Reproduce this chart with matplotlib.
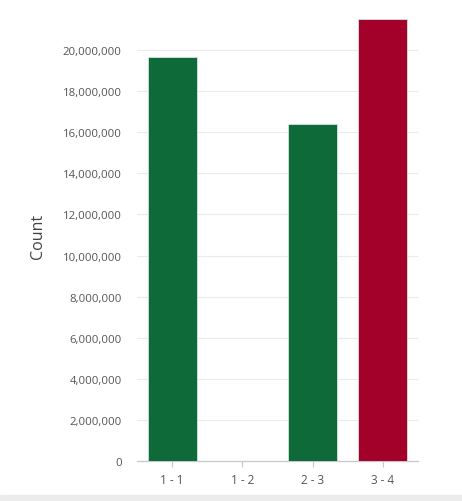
import matplotlib
matplotlib.use("Agg")
import matplotlib.pyplot as plt
from matplotlib.ticker import FuncFormatter
from matplotlib.patches import Rectangle

categories = ["1 - 1", "1 - 2", "2 - 3", "3 - 4"]
counts = [19_650_000, 0, 16_400_000, 21_500_000]
bar_colors = ["#0f6a3a", "#0f6a3a", "#0f6a3a", "#a3002a"]
y_ticks = list(range(0, 20_000_001, 2_000_000))

plt.rcParams["font.family"] = ["Open Sans", "DejaVu Sans"]

fig = plt.figure(figsize=(4.62, 5.02), dpi=100)
ax = fig.add_axes([137 / 462, 40 / 502, 281 / 462, 452 / 502])

x = range(len(categories))
ax.bar(x, counts, width=0.7, color=bar_colors, edgecolor="#cfe7dc",
       linewidth=0.6, zorder=3)

ax.set_xlim(-0.5, len(categories) - 0.5)
ax.set_ylim(0, 22_000_000)
ax.set_yticks(y_ticks)
ax.yaxis.set_major_formatter(FuncFormatter(lambda v, _: f"{int(v):,}"))
ax.set_xticks(list(x))
ax.set_xticklabels(categories)

ax.grid(axis="y", color="#ebebeb", linewidth=0.8, zorder=0)
for side in ("top", "right", "left"):
    ax.spines[side].set_visible(False)
ax.spines["bottom"].set_color("#c8c8c8")
ax.spines["bottom"].set_linewidth(0.9)

ax.tick_params(axis="y", length=0, pad=11, labelsize=8.2, labelcolor="#555555")
ax.tick_params(axis="x", length=4, color="#c8c8c8", pad=5, labelsize=8.5,
               labelcolor="#555555")

ax.set_ylabel("Count", fontsize=11.5, color="#444444", labelpad=12)

fig.patches.append(Rectangle((0, 0), 1, 6 / 502, transform=fig.transFigure,
                             color="#ececec", zorder=0))

fig.savefig("out.png", dpi=100)
